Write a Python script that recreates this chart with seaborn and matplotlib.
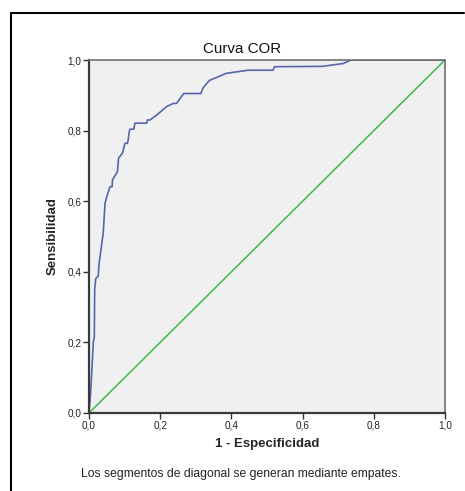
import matplotlib
matplotlib.use("Agg")
import matplotlib.pyplot as plt
from matplotlib.lines import Line2D
import seaborn as sns
import pandas as pd

# ROC curve
fpr = [0.0, 0.004, 0.008, 0.012, 0.015, 0.016, 0.019, 0.026, 0.028, 0.040, 0.045,
       0.050, 0.059, 0.065, 0.066, 0.080, 0.083, 0.094, 0.101, 0.108, 0.110, 0.113,
       0.115, 0.126, 0.129, 0.162, 0.164, 0.171, 0.190, 0.218, 0.237, 0.246, 0.266,
       0.314, 0.321, 0.338, 0.385, 0.405, 0.446, 0.517, 0.521, 0.656, 0.714, 0.736,
       1.0]
tpr = [0.0, 0.05, 0.12, 0.20, 0.216, 0.35, 0.381, 0.388, 0.42, 0.51, 0.594,
       0.613, 0.641, 0.641, 0.66, 0.684, 0.722, 0.736, 0.764, 0.764, 0.773, 0.797,
       0.804, 0.804, 0.821, 0.821, 0.830, 0.830, 0.844, 0.868, 0.877, 0.877, 0.905,
       0.905, 0.922, 0.942, 0.962, 0.965, 0.971, 0.971, 0.981, 0.982, 0.99, 1.0,
       1.0]
diag_x = [0.0, 1.0]
diag_y = [0.0, 1.0]
tick_vals = [0.0, 0.2, 0.4, 0.6, 0.8, 1.0]
tick_labels = ["0,0", "0,2", "0,4", "0,6", "0,8", "1,0"]

sns.set_style("white", {"axes.facecolor": "#f0f0f0"})
plt.rcParams["font.family"] = ["Liberation Sans", "DejaVu Sans"]

fig = plt.figure(figsize=(4.65, 4.91), dpi=100)
ax = fig.add_axes([89/465, 1-413/491, 356/465, 353/491])

roc = pd.DataFrame({"x": fpr, "y": tpr})
diag = pd.DataFrame({"x": diag_x, "y": diag_y})
sns.lineplot(data=roc, x="x", y="y", sort=False, ax=ax, color="#5566aa", lw=1.2)
sns.lineplot(data=diag, x="x", y="y", sort=False, ax=ax, color="#3cba4a", lw=1.1)

ax.set_xlim(0, 1)
ax.set_ylim(0, 1)
ax.set_xticks(tick_vals)
ax.set_xticklabels(tick_labels)
ax.set_yticks(tick_vals)
ax.set_yticklabels(tick_labels)
ax.tick_params(axis="both", direction="out", length=4, width=1, color="#333333",
               labelsize=7.2, labelcolor="#222222", pad=1.5, left=True, bottom=True)

for side in ["left", "bottom"]:
    ax.spines[side].set_color("#3a3a3a")
    ax.spines[side].set_linewidth(1.6)
for side in ["top", "right"]:
    ax.spines[side].set_visible(True)
    ax.spines[side].set_color("#707070")
    ax.spines[side].set_linewidth(1.2)

fig.text(242/465, 1-49/491, "Curva COR", ha="center", va="center", fontsize=10.9,
         color="#111111")
ax.set_xlabel("1 - Especificidad", fontsize=9.5, fontweight="bold", labelpad=5)
ax.set_ylabel("Sensibilidad", fontsize=9.5, fontweight="bold", labelpad=6)

fig.text(241/465, 1-474/491, "Los segmentos de diagonal se generan mediante empates.",
         ha="center", va="center", fontsize=8.7, color="#222222")

# outer frame
fig.add_artist(Line2D([11/465, 11/465], [0, 1-13/491], transform=fig.transFigure,
                      color="black", lw=1.5))
fig.add_artist(Line2D([11/465, 464/465], [1-13/491, 1-13/491], transform=fig.transFigure,
                      color="black", lw=1.5))

fig.savefig("out.png", dpi=100)
